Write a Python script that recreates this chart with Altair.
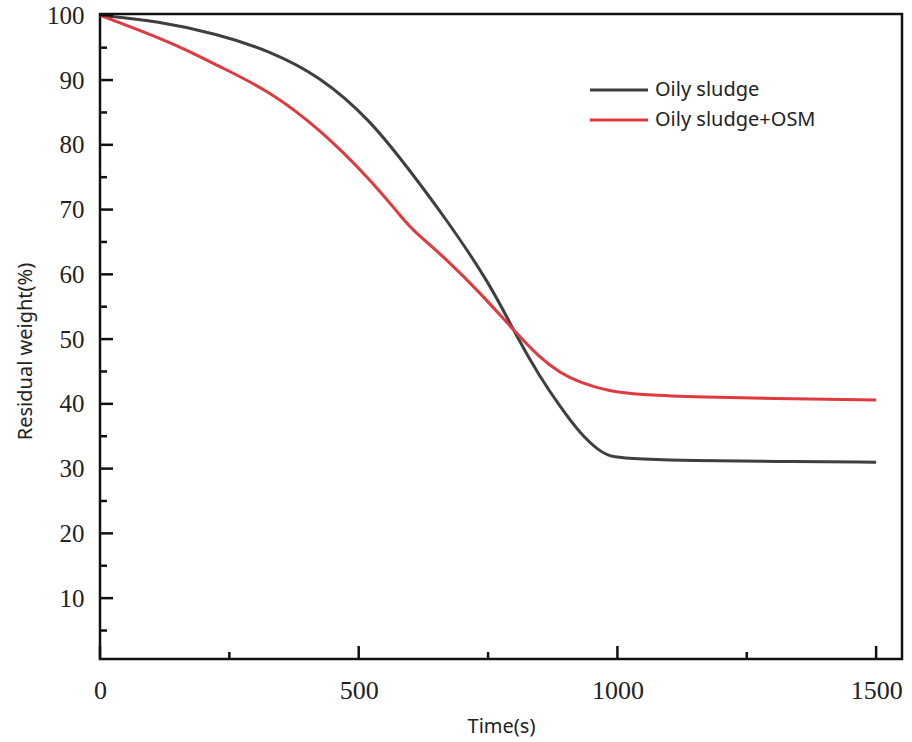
import altair as alt
import pandas as pd

# ---- data ----
time_os = [0, 112, 228, 328, 425, 522, 599, 663, 753, 805, 850, 889, 927, 966, 991, 1043, 1140, 1300, 1500]
weight_os = [100, 99.1, 97.1, 94.5, 90.6, 83.9, 76.0, 69.2, 58.7, 50.4, 44.2, 39.6, 35.5, 32.6, 31.7, 31.5, 31.2, 31.1, 31.0]

time_osm = [0, 73, 151, 228, 328, 425, 522, 586, 605, 670, 734, 798, 850, 889, 927, 985, 1043, 1140, 1300, 1500]
weight_osm = [100, 97.8, 95.3, 92.2, 88.3, 82.4, 74.7, 68.5, 66.8, 62.3, 57.2, 51.5, 47.1, 44.8, 43.3, 41.9, 41.4, 41.1, 40.8, 40.6]

series_names = ["Oily sludge", "Oily sludge+OSM"]
series_colors = ["#3f3f3f", "#e0393e"]

x_major = [0, 500, 1000, 1500]
x_minor = [250, 750, 1250]
y_major = [10, 20, 30, 40, 50, 60, 70, 80, 90, 100]
y_minor = [5, 15, 25, 35, 45, 55, 65, 75, 85, 95]

df = pd.concat([
    pd.DataFrame({"t": time_os, "w": weight_os, "s": series_names[0]}),
    pd.DataFrame({"t": time_osm, "w": weight_osm, "s": series_names[1]}),
])

W, H = 802, 645
xscale = alt.Scale(domain=[0, 1550], nice=False, zero=False)
yscale = alt.Scale(domain=[0.6, 100.2], nice=False, zero=False)

serif = "Liberation Serif"
sans = "Noto Sans"

x_axis = alt.Axis(
    title="Time(s)", values=x_major, format="d", ticks=False, domain=False, grid=False,
    labelFlush=False,
    labelFont=serif, labelFontSize=26, labelColor="#222", labelPadding=18,
    titleFont=sans, titleFontSize=20, titleFontWeight="normal", titleColor="#222", titlePadding=13)
y_axis = alt.Axis(
    title="Residual weight(%)", values=y_major, format="d", ticks=False, domain=False, grid=False,
    labelFlush=False,
    labelFont=serif, labelFontSize=25, labelColor="#222", labelPadding=16,
    titleFont=sans, titleFontSize=20, titleFontWeight="normal", titleColor="#222", titlePadding=11,
    titleY=337)

lines = alt.Chart(df).mark_line(strokeWidth=3, interpolate="basis").encode(
    x=alt.X("t:Q", scale=xscale, axis=x_axis),
    y=alt.Y("w:Q", scale=yscale, axis=y_axis),
    color=alt.Color("s:N", scale=alt.Scale(domain=series_names, range=series_colors), legend=None),
)

ymaj = alt.Chart(pd.DataFrame({"w": y_major})).mark_rule(color="#111", strokeWidth=2.5).encode(
    y=alt.Y("w:Q", scale=yscale), x=alt.value(0), x2=alt.value(13))
ymin = alt.Chart(pd.DataFrame({"w": y_minor})).mark_rule(color="#111", strokeWidth=2.5).encode(
    y=alt.Y("w:Q", scale=yscale), x=alt.value(0), x2=alt.value(7))
xmaj = alt.Chart(pd.DataFrame({"t": x_major})).mark_rule(color="#111", strokeWidth=2.5).encode(
    x=alt.X("t:Q", scale=xscale), y=alt.value(H), y2=alt.value(H - 13))
xmin = alt.Chart(pd.DataFrame({"t": x_minor})).mark_rule(color="#111", strokeWidth=2.5).encode(
    x=alt.X("t:Q", scale=xscale), y=alt.value(H), y2=alt.value(H - 7))

# legend (drawn manually so the row spacing matches)
legend_layers = []
for i, (name, col) in enumerate(zip(series_names, series_colors)):
    ly = 76 + 30 * i
    legend_layers.append(
        alt.Chart(pd.DataFrame({"s": [name]})).mark_rule(color=col, strokeWidth=3).encode(
            x=alt.value(490), x2=alt.value(548), y=alt.value(ly)))
    legend_layers.append(
        alt.Chart(pd.DataFrame({"s": [name]})).mark_text(
            align="left", baseline="middle", font=sans, fontSize=20, color="#222").encode(
            x=alt.value(555), y=alt.value(ly), text="s:N"))

chart = alt.layer(lines, ymaj, ymin, xmaj, xmin, *legend_layers).properties(
    width=W, height=H,
    background="white",
    autosize=alt.AutoSizeParams(type="none"),
    padding={"left": 100, "top": 14, "right": 10, "bottom": 83},
).configure_view(stroke="#111", strokeWidth=2.5)

chart.save("out.html", embed_options={"renderer": "svg", "actions": False})
